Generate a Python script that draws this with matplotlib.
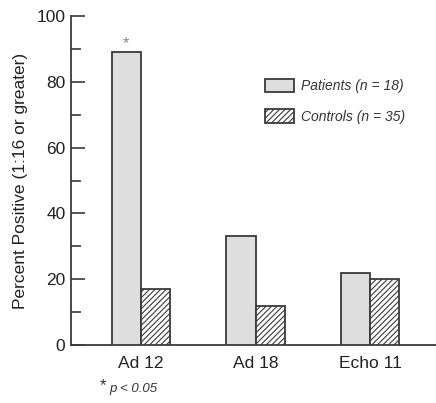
"""Percent positive antibody titres: patients vs controls."""
import matplotlib
matplotlib.use("Agg")
import matplotlib.pyplot as plt
import matplotlib.patches as mpatches
import numpy as np

plt.rcParams["font.family"] = ["Liberation Sans", "DejaVu Sans"]
plt.rcParams["hatch.linewidth"] = 0.8

# data
viruses = ["Ad 12", "Ad 18", "Echo 11"]
patients = [89, 33, 22]
controls = [17, 12, 20]
yticks = [0, 20, 40, 60, 80, 100]

_EDGE = "#3a3a3a"
_PAT_FILL = "#dedede"
_BAR_W = 0.255

fig = plt.figure(figsize=(4.36, 4.03), dpi=100)
ax = fig.add_axes([71 / 436, 1 - 345 / 403, 1 - 71 / 436, (345 - 16) / 403])

x = np.arange(len(viruses))
ax.bar(x - _BAR_W / 2, patients, _BAR_W, color=_PAT_FILL, edgecolor=_EDGE,
       linewidth=1.3, zorder=3)
ax.bar(x + _BAR_W / 2, controls, _BAR_W, color="white", edgecolor=_EDGE,
       hatch="//////", linewidth=1.3, zorder=3)

# significance mark over Ad 12 patients
ax.text(x[0] - _BAR_W / 2, patients[0] + 0.3, "*", ha="center", va="bottom",
        fontsize=12, color="#888888")

ax.set_xlim(-0.611, 2.576)
ax.set_ylim(0, 100)
ax.set_xticks(x)
ax.set_xticklabels(viruses, fontsize=12.5, color="#222222")
ax.set_yticks(yticks)
ax.set_yticklabels([str(t) for t in yticks], fontsize=12.5, color="#222222")
ax.set_yticks(np.arange(10, 100, 20), minor=True)
ax.tick_params(axis="y", which="major", direction="in", length=10, width=1.2,
               pad=4, color=_EDGE)
ax.tick_params(axis="y", which="minor", direction="in", length=7, width=1.2,
               color=_EDGE)
ax.tick_params(axis="x", length=0, pad=8)
ax.set_ylabel("Percent Positive (1:16 or greater)", fontsize=12.5,
              color="#222222", labelpad=6)

for side in ("top", "right"):
    ax.spines[side].set_visible(False)
for side in ("left", "bottom"):
    ax.spines[side].set_color(_EDGE)
    ax.spines[side].set_linewidth(1.3)

# legend
pat_patch = mpatches.Patch(facecolor=_PAT_FILL, edgecolor=_EDGE, lw=1.3,
                           label="Patients (n = 18)")
con_patch = mpatches.Patch(facecolor="white", edgecolor=_EDGE, lw=1.3,
                           hatch="//////", label="Controls (n = 35)")
leg = ax.legend(handles=[pat_patch, con_patch], loc="upper left",
                bbox_to_anchor=(0.497, 0.848), frameon=False, fontsize=10,
                handlelength=2.1, handleheight=1.15, labelspacing=1.15,
                handletextpad=0.5)
for t in leg.get_texts():
    t.set_fontstyle("italic")
    t.set_color("#333333")

# footnote
fig.text(100 / 436, 1 - 386 / 403, "*", fontsize=12, color="#333333",
         ha="left", va="center")
fig.text(109 / 436, 1 - 389 / 403, "p < 0.05", fontsize=9.5, color="#333333",
         style="italic", ha="left", va="center")

fig.savefig("out.png", dpi=100)
